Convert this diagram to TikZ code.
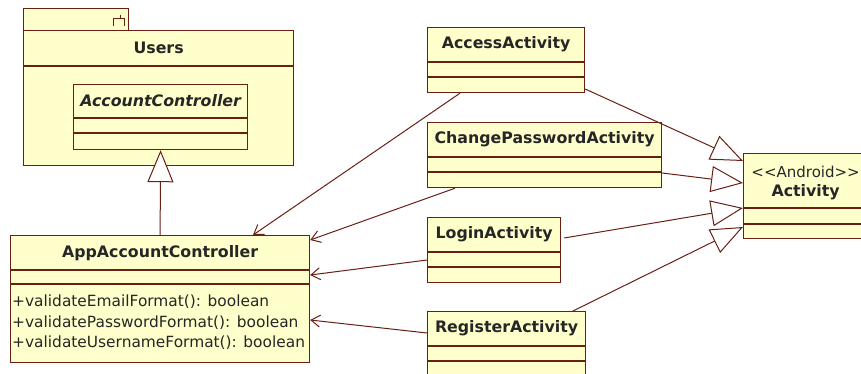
\documentclass[tikz,border=0pt]{standalone}
\usepackage{fontspec}
\setmainfont{DejaVu Sans}
\usepackage{tikz}
\usetikzlibrary{arrows.meta, calc, positioning}
\definecolor{umlfill}{RGB}{255,255,204}
\definecolor{umlline}{RGB}{105,32,20}

\begin{document}
\begin{tikzpicture}[x = 1pt, y = -1pt,
    box/.style = {draw = umlline, fill = umlfill, line width = 1.2pt, anchor = north west, inner sep = 0pt},
    sep/.style = {draw = umlline, line width = 1.1pt},
    title/.style = {font = \fontsize{15.8}{18}\selectfont\bfseries, text = black!85},
    member/.style = {font = \fontsize{15.4}{18}\selectfont, text = black!85, anchor = west, inner sep = 0pt},
    uses/.style = {draw = umlline, line width = 1pt, -{Straight Barb[length = 9pt, width = 12pt]}},
    extends/.style = {draw = umlline, line width = 1pt, -{Triangle[length = 32pt, width = 26pt, fill = white]}}]
    \useasboundingbox (0,0) rectangle (861,374);
    \clip (0,0) rectangle (861,374);
    \fill[white] (0,0) rectangle (861,374);

    % package Users
    \node[box, minimum width = 105, minimum height = 22] (tab) at (23,8) {};
    \node[box, minimum width = 270, minimum height = 135] (users) at (23,30) {};
    \node[title] (users-name) at ($(users.north)+(0,18)$) {Users};
    \draw[sep] ($(users.north west)+(0,36)$) -- ($(users.north east)+(0,36)$);
    \draw[umlline, line width = 1pt] (120,15) -- (120,19) (113,26) -- (113,19) -- (124,19) -- (124,26);

    % abstract class inside the package
    \node[box, minimum width = 174, minimum height = 65] (ac) at (73,84) {};
    \node[title, font = \fontsize{15.8}{18}\selectfont\bfseries\itshape] (ac-name) at ($(ac.north)+(0,17)$) {AccountController};
    \draw[sep] ($(ac.north west)+(0,34)$) -- ($(ac.north east)+(0,34)$)
               ($(ac.north west)+(0,49)$) -- ($(ac.north east)+(0,49)$);

    % AppAccountController
    \node[box, minimum width = 299, minimum height = 127] (app) at (10,235) {};
    \node[title] (app-name) at ($(app.north)+(0,18)$) {AppAccountController};
    \draw[sep] ($(app.north west)+(0,35)$) -- ($(app.north east)+(0,35)$)
               ($(app.north west)+(0,49)$) -- ($(app.north east)+(0,49)$);
    \node[member] (m1) at ($(app.north west)+(2,67)$) {+validateEmailFormat(): boolean};
    \node[member] (m2) at ($(app.north west)+(2,88)$) {+validatePasswordFormat(): boolean};
    \node[member] (m3) at ($(app.north west)+(2,108)$) {+validateUsernameFormat(): boolean};

    % the four activities
    \foreach \n/\x/\y/\w/\t in {acc/427/27/157/AccessActivity, chg/427/122/234/ChangePasswordActivity,
                                login/427/217/133/LoginActivity, reg/427/311/158/RegisterActivity}{
        \node[box, minimum width = \w, minimum height = 65] (\n) at (\x,\y) {};
        \node[title] (\n-name) at ($(\n.north)+(0,17.5)$) {\t};
        \draw[sep] ($(\n.north west)+(0,35)$) -- ($(\n.north east)+(0,35)$)
                   ($(\n.north west)+(0,50)$) -- ($(\n.north east)+(0,50)$);
    }

    % Android Activity
    \node[box, minimum width = 124, minimum height = 85] (act) at (743,153) {};
    \node[font = \fontsize{15}{18}\selectfont, text = black!85] (act-stereo) at ($(act.north)+(0,19)$) {<\kern0pt<Android>\kern0pt>};
    \node[title] (act-name) at ($(act.north)+(0,39)$) {Activity};
    \draw[sep] ($(act.north west)+(0,55)$) -- ($(act.north east)+(0,55)$)
               ($(act.north west)+(0,71)$) -- ($(act.north east)+(0,71)$);

    % generalizations
    \draw[extends] (app.north) -- (ac.south);
    \draw[extends] ($(acc.north east)+(0,62)$) -- ($(act.north west)+(0,8)$);
    \draw[extends] ($(chg.north east)+(0,51)$) -- ($(act.north west)+(0,30)$);
    \draw[extends] ($(login.north east)+(3,21)$) -- ($(act.north west)+(0,55)$);
    \draw[extends] ($(reg.north west)+(146,0)$) -- ($(act.north west)+(0,74)$);

    % dependencies
    \draw[uses] ($(acc.south west)+(33,0)$) -- ($(app.north west)+(243,0)$);
    \draw[uses] ($(chg.south west)+(28,0)$) -- ($(app.north east)+(0,5)$);
    \draw[uses] ($(login.north west)+(0,43)$) -- ($(app.north east)+(0,40)$);
    \draw[uses] ($(reg.north west)+(0,22)$) -- ($(app.north east)+(0,85)$);
\end{tikzpicture}
\end{document}
